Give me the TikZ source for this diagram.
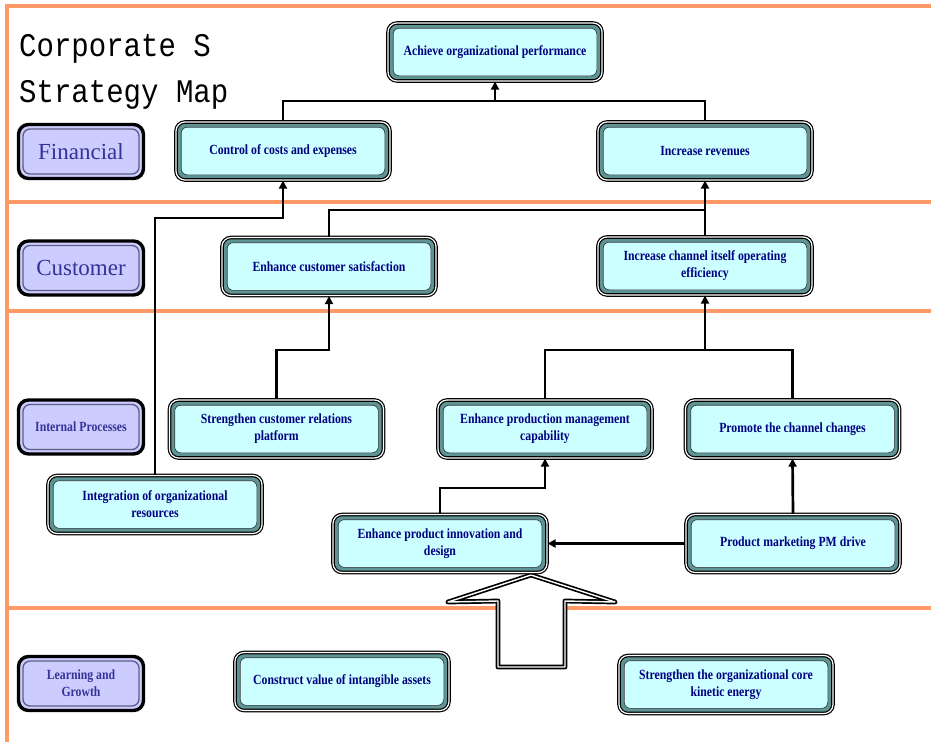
\documentclass[tikz,border=0pt]{standalone}
\usepackage{fontspec}
\setmainfont{Liberation Serif}
\newfontfamily\boxfont[FakeStretch=0.84]{Liberation Serif}
\newfontfamily\titlefont[FakeStretch=0.88]{Liberation Mono}
\usetikzlibrary{arrows.meta}
\definecolor{frameor}{HTML}{FF9966}
\definecolor{cyanfill}{HTML}{CCFFFF}
\definecolor{tealband}{HTML}{5F9494}
\definecolor{navytext}{HTML}{000080}
\definecolor{lavfill}{HTML}{CCCCFF}
\definecolor{catblue}{HTML}{333399}
\definecolor{catgray}{HTML}{5C5C80}
\begin{document}
\begin{tikzpicture}[x=1pt,y=-1pt,
  orline/.style={draw=frameor, line width=3.5pt},
  sbox/.style={draw=black, line width=1.2pt, double=white, double distance=1.2pt,
    fill=tealband, rounded corners=9pt, minimum width=214pt, minimum height=58pt,
    inner sep=0pt, align=center, text=navytext,
    font=\boxfont\bfseries\fontsize{14}{17}\selectfont,
    path picture={\draw[draw=black!80, fill=cyanfill, line width=0.6pt, rounded corners=6pt]
      ([xshift=5.2pt,yshift=-5.2pt]path picture bounding box.north west) rectangle
      ([xshift=-5.2pt,yshift=5.2pt]path picture bounding box.south east);}},
  cbox/.style={draw=black, line width=3.4pt, fill=lavfill, rounded corners=10pt,
    minimum width=125pt, minimum height=54pt, inner sep=0pt, align=center, text=catblue,
    path picture={\draw[draw=catgray, line width=1.3pt, rounded corners=7pt]
      ([xshift=4.5pt,yshift=-4.5pt]path picture bounding box.north west) rectangle
      ([xshift=-4.5pt,yshift=4.5pt]path picture bounding box.south east);}},
  catbig/.style={font=\fontsize{23}{27}\selectfont},
  catsmall/.style={font=\boxfont\bfseries\fontsize{14}{17}\selectfont},
  conn/.style={draw=black, line width=2.7pt},
  arr/.style={conn, -{Triangle[length=8pt,width=8pt]}},
  titletext/.style={font=\titlefont\fontsize{33}{40}\selectfont, anchor=base west, inner sep=0pt}
]
\useasboundingbox (0,0) rectangle (931,742);
% frame
\draw[orline] (7,742) -- (7,6) -- (931,6);
\draw[orline] (7,202) -- (931,202);
\draw[orline] (7,311) -- (931,311);
\draw[orline] (7,608) -- (931,608);
% big hollow arrow
\draw[draw=black, line width=1.7pt, double=white, double distance=1.4pt, fill=white, line join=round]
  (531,575) -- (615,602) -- (565,601) -- (565,667) -- (498,667) -- (498,601) -- (448,602) -- cycle;
% title
\node[titletext] (title1) at (19,56) {Corporate S};
\node[titletext] (title2) at (19,102) {Strategy Map};
% category boxes
\node[cbox, catbig] (fin) at (81,151.5) {Financial};
\node[cbox, catbig] (cus) at (81,268) {Customer};
\node[cbox, catsmall] (ip) at (81,427) {Internal Processes};
\node[cbox, catsmall] (lg) at (81,683.5) {Learning and\\Growth};
% strategy boxes
\node[sbox] (ach) at (495,52) {Achieve organizational performance};
\node[sbox] (ctl) at (283,151) {Control of costs and expenses};
\node[sbox] (rev) at (705,151) {Increase revenues};
\node[sbox] (sat) at (329,266.5) {Enhance customer satisfaction};
\node[sbox] (chn) at (705,266) {Increase channel itself operating\\efficiency};
\node[sbox] (scr) at (276.5,429) {Strengthen customer relations\\platform};
\node[sbox] (epm) at (545,429) {Enhance production management\\capability};
\node[sbox] (pcc) at (792.5,429) {Promote the channel changes};
\node[sbox] (int) at (155,504.5) {Integration of organizational\\resources};
\node[sbox] (epi) at (440,543.5) {Enhance product innovation and\\design};
\node[sbox] (pmd) at (793,543.5) {Product marketing PM drive};
\node[sbox] (cva) at (342,681.5) {Construct value of intangible assets};
\node[sbox] (soc) at (726,684.5) {Strengthen the organizational core\\kinetic energy};
% connectors
\coordinate (j1) at (ach.south |- 0,101);
\draw[conn] (ctl.north) |- (j1) -| (rev.north);
\draw[arr] (j1) -- (ach.south);
\draw[arr] (int.north) -- (int.north |- 0,218) -| (ctl.south);
\coordinate (j2) at (chn.north |- 0,210);
\draw[conn] (sat.north) |- (j2);
\draw[arr] (chn.north) -- (rev.south);
\draw[arr] (scr.north) -- (scr.north |- 0,350) -| (sat.south);
\coordinate (j3) at (chn.south |- 0,350);
\draw[conn] (epm.north) -- (epm.north |- 0,350) -| (pcc.north);
\draw[arr] (j3) -- (chn.south);
\draw[arr] (epi.north) -- (epi.north |- 0,488) -| (epm.south);
\draw[arr] (pmd.north) -- (pcc.south);
\draw[arr] (pmd.west) -- (epi.east);
\end{tikzpicture}
\end{document}
